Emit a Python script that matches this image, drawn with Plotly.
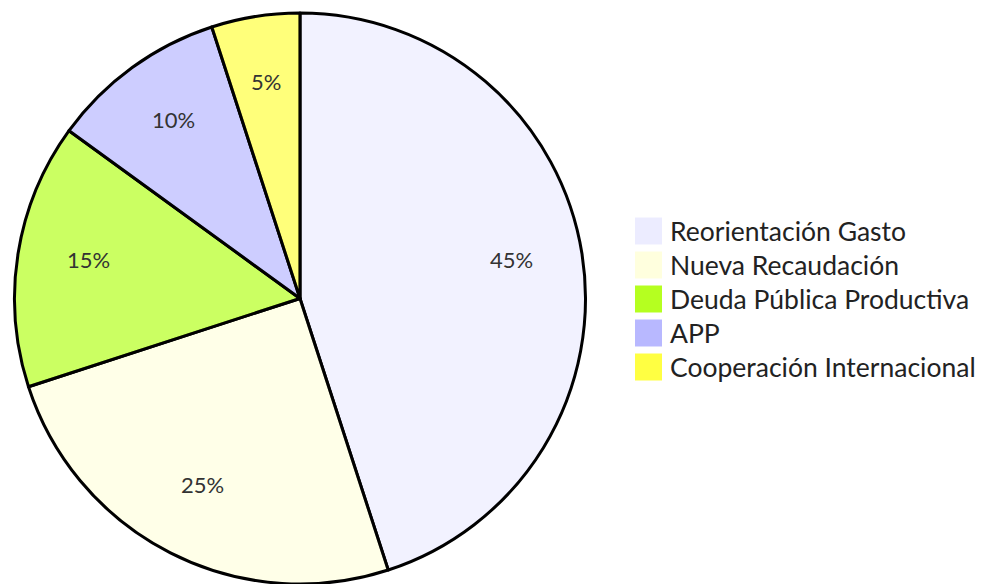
import math
import plotly.graph_objects as go

# Funding sources and their share of the total (percent)
labels = [
    "Reorientación Gasto",
    "Nueva Recaudación",
    "Deuda Pública Productiva",
    "APP",
    "Cooperación Internacional",
]
values = [45, 25, 15, 10, 5]
colors = ["#ECECFF", "#FFFFDE", "#B5FF20", "#B8B8FF", "#FFFF42"]

W, H = 982, 584
FONT = "Lato"


def rgba(hex_color, alpha):
    h = hex_color.lstrip("#")
    r, g, b = (int(h[i:i + 2], 16) for i in (0, 2, 4))
    return f"rgba({r},{g},{b},{alpha})"


# pie placement in pixels
cx, cy, R = 300, 299, 286
dom_x = [(cx - R) / W, (cx + R) / W]
dom_y = [max(0, 1 - (cy + R) / H), 1 - (cy - R) / H]

fig = go.Figure(
    go.Pie(
        labels=labels,
        values=values,
        sort=False,
        direction="clockwise",
        rotation=0,
        textinfo="none",
        hoverinfo="label+percent",
        marker=dict(
            colors=[rgba(c, 0.7) for c in colors],
            line=dict(color="#000000", width=3),
        ),
        domain=dict(x=dom_x, y=dom_y),
        showlegend=False,
    )
)

annotations = []
shapes = []

# percentage labels at 3/4 of the radius, in the middle of each slice
# (text sits slightly above the anchor point)
label_lift = 6
total = sum(values)
cum = 0
for v in values:
    mid = (cum + v / 2) / total * 2 * math.pi
    cum += v
    px = cx + 0.75 * R * math.sin(mid)
    py = cy - 0.75 * R * math.cos(mid) - label_lift
    annotations.append(dict(
        x=px / W, y=1 - py / H, xref="paper", yref="paper",
        text=f"{round(v / total * 100)}%", showarrow=False,
        font=dict(family=FONT, size=22, color="#333333"),
        xanchor="center", yanchor="middle",
    ))

# legend: coloured squares with labels
lx, ly0, step, sw = 635, 231, 34, 27
for i, (lab, col) in enumerate(zip(labels, colors)):
    yc = ly0 + i * step
    shapes.append(dict(
        type="rect", xref="paper", yref="paper",
        x0=lx / W, x1=(lx + sw) / W,
        y0=1 - (yc + sw / 2) / H, y1=1 - (yc - sw / 2) / H,
        fillcolor=col, line=dict(width=0),
    ))
    annotations.append(dict(
        x=(lx + sw + 6) / W, y=1 - yc / H, xref="paper", yref="paper",
        text=lab, showarrow=False,
        font=dict(family=FONT, size=26.5, color="#222222"),
        xanchor="left", yanchor="middle",
    ))

fig.update_layout(
    width=W, height=H,
    margin=dict(l=0, r=0, t=0, b=0),
    paper_bgcolor="white",
    plot_bgcolor="white",
    annotations=annotations,
    shapes=shapes,
)

fig.write_html("out.html")
